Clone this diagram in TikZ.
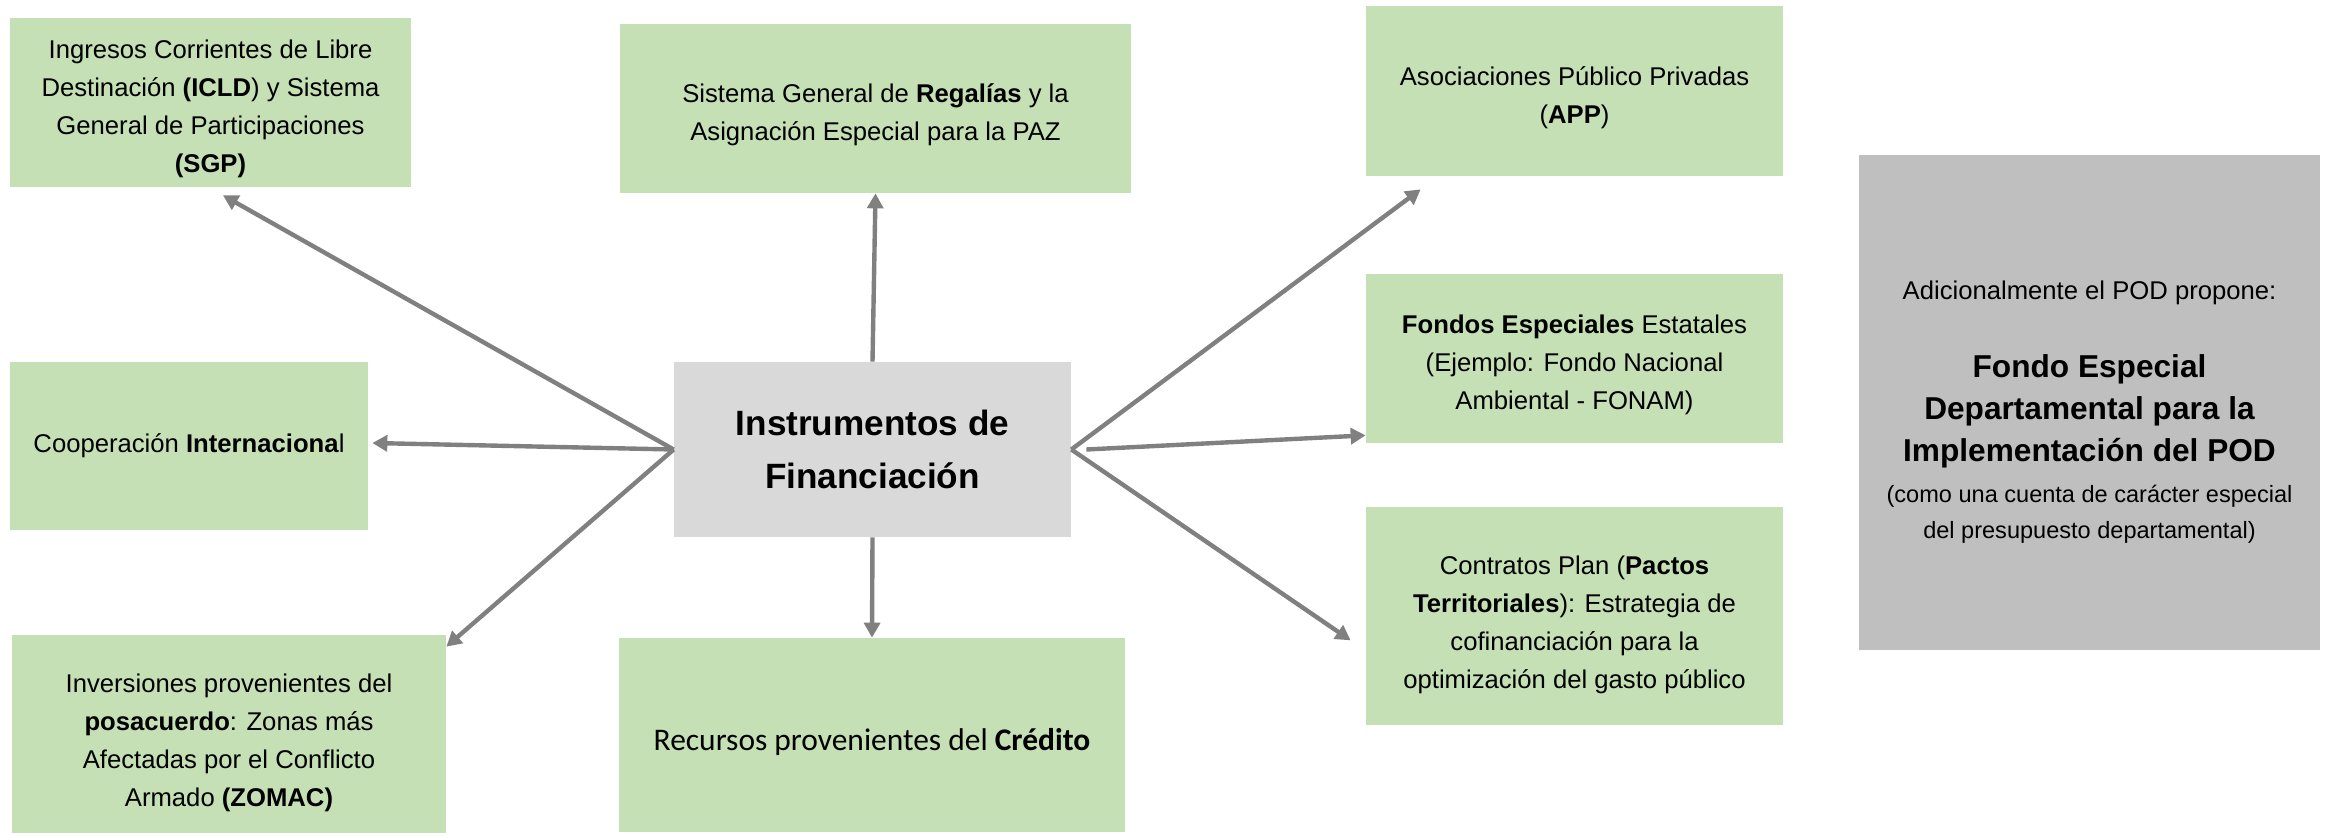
\documentclass[tikz,border=0pt]{standalone}
\usepackage{fontspec}
\setmainfont{Liberation Sans}
\newfontfamily\calibri{Carlito}
\usetikzlibrary{arrows.meta}

\definecolor{verde}{RGB}{197,224,180}
\definecolor{grisclaro}{RGB}{217,217,217}
\definecolor{grismedio}{RGB}{191,191,191}
\definecolor{grisflecha}{RGB}{128,128,128}

% baja un poco el texto dentro de las cajas
\newcommand{\bajo}[1][21pt]{\rule{0pt}{#1}}

\begin{document}
\begin{tikzpicture}[
    fuente/.style={rectangle, fill=verde, inner sep=0pt, align=center, font=\fontsize{14.6}{21.6}\selectfont},
    central/.style={rectangle, fill=grisclaro, inner sep=0pt, align=center, font=\fontsize{20}{30.4}\selectfont\bfseries},
    propuesta/.style={rectangle, fill=grismedio, inner sep=0pt},
    texto/.style={inner sep=0pt, align=center},
    flecha/.style={-{Triangle[length=0.3cm, width=0.32cm]}, draw=grisflecha, line width=2.5pt}
]
\useasboundingbox (0,0) rectangle (46.66,16.70);

% Fuentes a la izquierda
\node[fuente, minimum width=8.02cm, minimum height=3.38cm] (icld) at (4.21,14.65) {\bajo[18pt]Ingresos Corrientes de Libre\\Destinación \textbf{(ICLD}) y Sistema\\General de Participaciones\\\textbf{(SGP)}};
\node[fuente, minimum width=7.16cm, minimum height=3.36cm] (coop) at (3.78,7.78) {Cooperación \textbf{Internaciona}l};
\node[fuente, minimum width=8.68cm, minimum height=3.96cm] (inv) at (4.58,2.02) {\bajo Inversiones provenientes del\\\textbf{posacuerdo}: Zonas más\\Afectadas por el Conflicto\\Armado \textbf{(ZOMAC)}};

% Nodo central y columna del medio
\node[central, minimum width=7.94cm, minimum height=3.50cm] (inst) at (17.45,7.71) {Instrumentos de\\Financiación};
\node[fuente, minimum width=10.22cm, minimum height=3.38cm] (sgr) at (17.51,14.53) {\bajo[18pt]Sistema General de \textbf{Regalías} y la\\Asignación Especial para la PAZ};
\node[fuente, minimum width=10.12cm, minimum height=3.88cm, font=\calibri\fontsize{17.9}{21}\selectfont] (cred) at (17.44,2.00) {\bajo Recursos provenientes del \textbf{Crédito}};

% Fuentes a la derecha
\node[fuente, minimum width=8.34cm, minimum height=3.40cm] (app) at (31.49,14.88) {\bajo[18pt]Asociaciones Público Privadas\\(\textbf{APP})};
\node[fuente, minimum width=8.34cm, minimum height=3.38cm] (fondos) at (31.49,9.53) {\bajo[18pt]\textbf{Fondos Especiales} Estatales\\(Ejemplo: Fondo Nacional\\Ambiental - FONAM)};
\node[fuente, minimum width=8.34cm, minimum height=4.36cm] (pactos) at (31.49,4.38) {\bajo Contratos Plan (\textbf{Pactos}\\\textbf{Territoriales}): Estrategia de\\cofinanciación para la\\optimización del gasto público};

% Propuesta del POD
\node[propuesta, minimum width=9.22cm, minimum height=9.90cm] (fondo) at (41.79,8.65) {};
\node[texto, anchor=base, font=\fontsize{14.6}{21.6}\selectfont] (adic) at ([yshift=2.05cm]fondo.center) {Adicionalmente el POD propone:};
\node[texto, font=\fontsize{18}{24}\selectfont\bfseries] (fondoesp) at ([yshift=-0.17cm]fondo.center) {Fondo Especial\\Departamental para la\\Implementación del POD};
\node[texto, font=\fontsize{13.4}{20.5}\selectfont] (cuenta) at ([yshift=-2.23cm]fondo.center) {(como una cuenta de carácter especial\\del presupuesto departamental)};

% Flechas
\draw[flecha] (inst.west) -- ([xshift=0.25cm, yshift=-0.16cm]icld.south);
\draw[flecha] (inst.west) -- ([xshift=0.08cm, yshift=0.06cm]coop.east);
\draw[flecha] (inst.west) -- ([yshift=-0.24cm]inv.north east);
\draw[flecha] (inst.north) -- (sgr.south);
\draw[flecha] (inst.south) -- (cred.north);
\draw[flecha] (inst.east) -- ([xshift=1.1cm, yshift=-0.26cm]app.south west);
\draw[flecha] ([xshift=0.3cm]inst.east) -- ([yshift=0.16cm]fondos.south west);
\draw[flecha] (inst.east) -- ([xshift=-0.3cm, yshift=1.7cm]pactos.south west);

\end{tikzpicture}
\end{document}
